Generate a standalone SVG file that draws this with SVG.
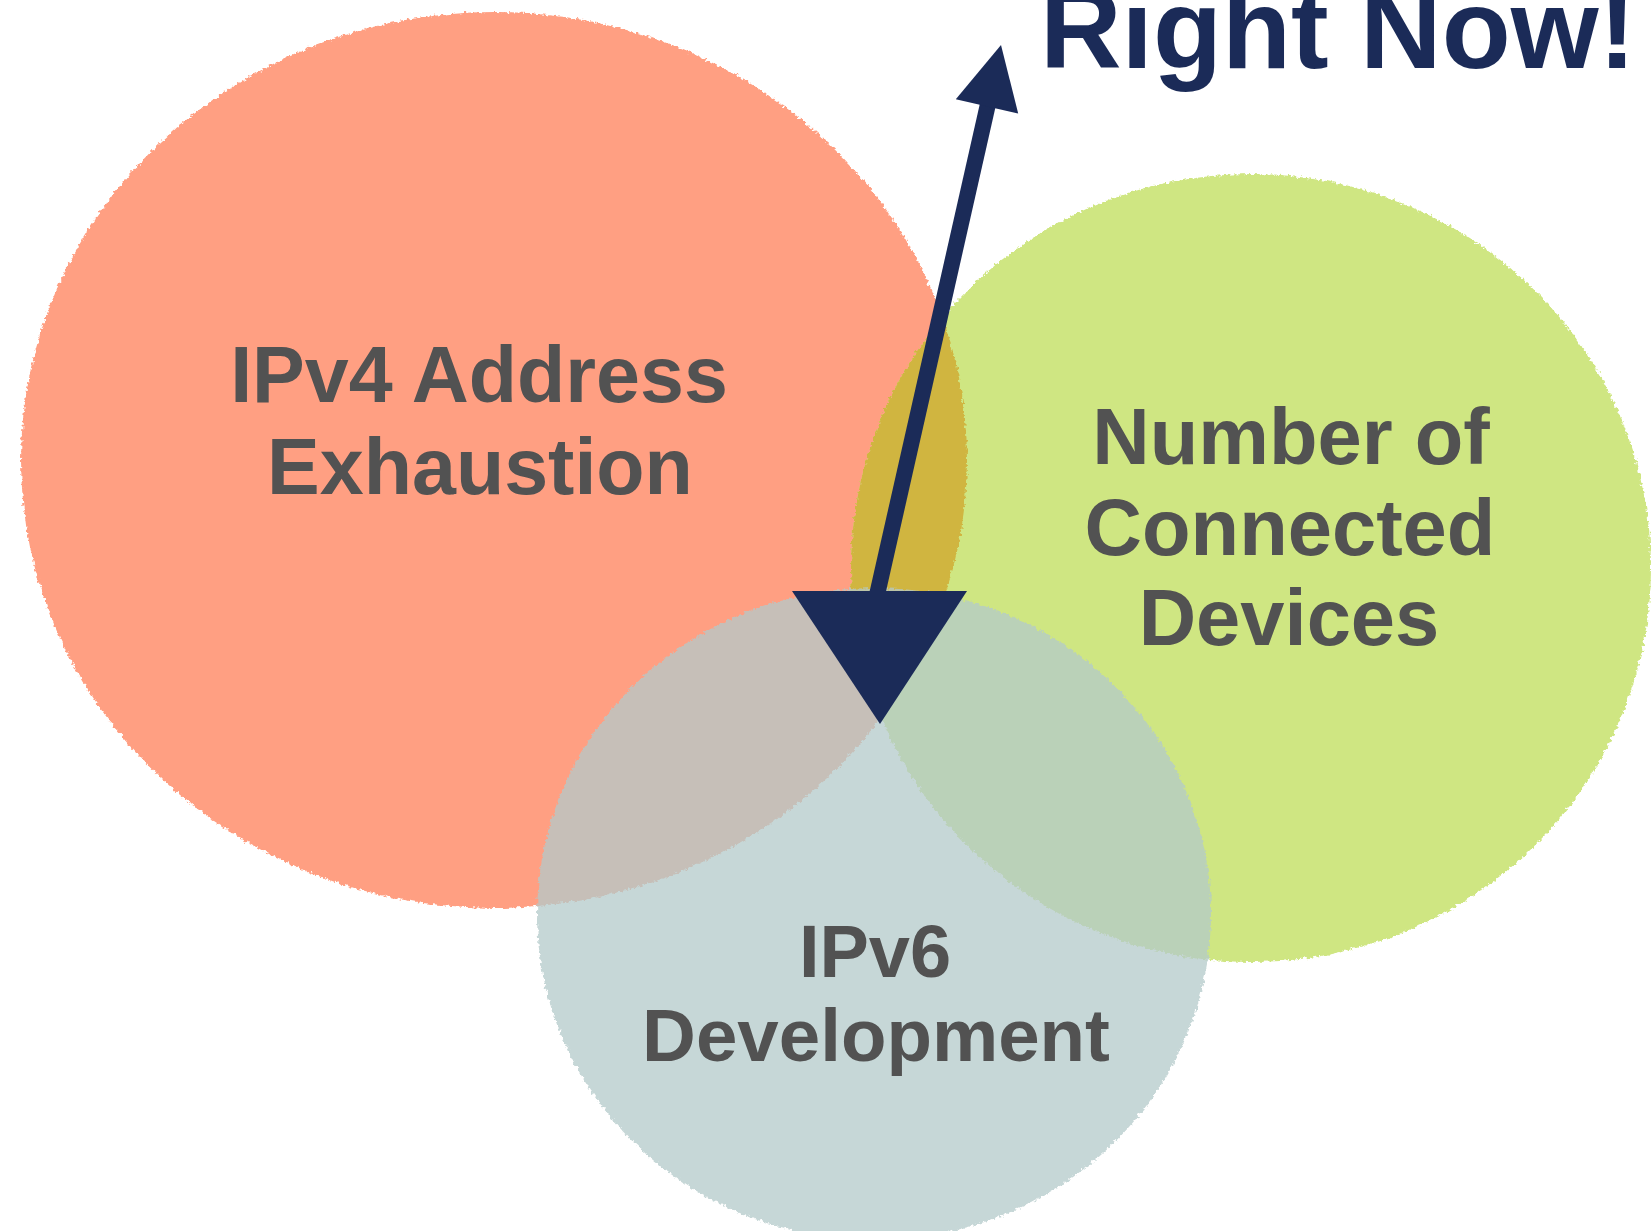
<svg xmlns="http://www.w3.org/2000/svg" width="1651" height="1231" viewBox="0 0 1651 1231">
  <defs>
    <style>
      .label { font-family: "Liberation Sans", Arial, sans-serif; font-weight: bold; fill: #525252; text-anchor: middle; }
      .title { font-family: "Liberation Sans", Arial, sans-serif; font-weight: bold; fill: #1b2b58; }
      .navy { fill: #1b2b58; }
    </style>
    <!-- brush-like ragged outline for the circles -->
    <filter id="rough" x="-5%" y="-5%" width="110%" height="110%">
      <feTurbulence type="fractalNoise" baseFrequency="0.3" numOctaves="2" seed="3" result="noise"/>
      <feDisplacementMap in="SourceGraphic" in2="noise" scale="6" xChannelSelector="R" yChannelSelector="G"/>
    </filter>
    <clipPath id="redClip">
      <ellipse cx="494" cy="460" rx="473" ry="448"/>
    </clipPath>
  </defs>

  <rect width="1651" height="1231" fill="#ffffff"/>

  <g id="ipv4-exhaustion">
    <ellipse cx="494" cy="460" rx="473" ry="448" fill="#ff9f82" filter="url(#rough)"/>
  </g>

  <g id="connected-devices">
    <ellipse cx="1251" cy="568" rx="400" ry="394" fill="#cfe682" filter="url(#rough)"/>
  </g>

  <!-- overlap of the two upper circles -->
  <g id="overlap" filter="url(#rough)">
    <ellipse cx="1251" cy="568" rx="400" ry="394" fill="#d0b540" clip-path="url(#redClip)"/>
  </g>

  <g id="ipv6-development" opacity="0.75">
    <ellipse cx="874" cy="914" rx="337" ry="326" fill="#b4caca" filter="url(#rough)"/>
  </g>

  <g id="labels">
    <text class="label" x="479" y="402" font-size="79">IPv4 Address</text>
    <text class="label" x="480" y="494" font-size="79">Exhaustion</text>
    <text class="label" x="1291" y="464" font-size="79.5">Number of</text>
    <text class="label" x="1290" y="555" font-size="79.5">Connected</text>
    <text class="label" x="1289" y="645" font-size="79.5">Devices</text>
    <text class="label" x="875" y="977" font-size="74">IPv6</text>
    <text class="label" x="876" y="1061" font-size="74.5">Development</text>
    <text class="title" x="1040" y="68" font-size="113">Right Now!</text>
  </g>

  <g id="connectors">
    <line x1="877" y1="595" x2="988" y2="104" stroke="#1b2b58" stroke-width="16"/>
    <polygon class="navy" points="1001,45 955.8,99.3 1018.2,113.5"/>
    <polygon class="navy" points="792,591 967,591 880,724"/>
  </g>
</svg>
